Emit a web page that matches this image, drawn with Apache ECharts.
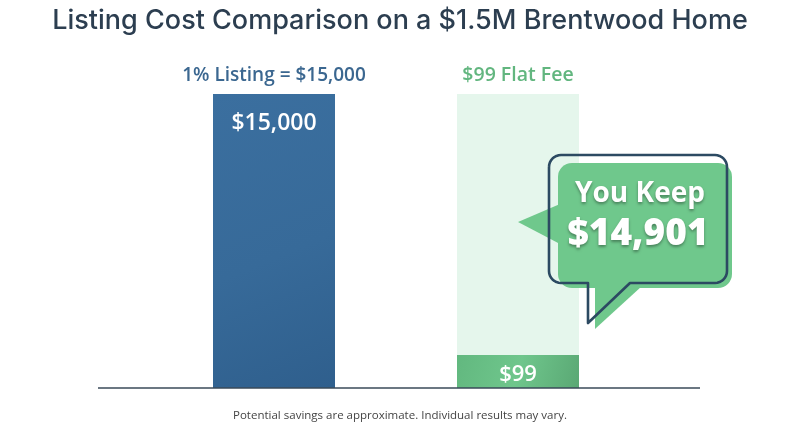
<!DOCTYPE html>
<html><head><meta charset="utf-8">
<script src="https://cdn.jsdelivr.net/npm/echarts@6/dist/echarts.min.js"></script>
<style>html,body{margin:0;padding:0;background:#fff}#c{width:800px;height:436px}</style>
</head><body><div id="c"></div>
<script>
var title = 'Listing Cost Comparison on a $1.5M Brentwood Home';
var categories = ['1% Listing = $15,000', '$99 Flat Fee'];
var costs = [15000, 99];
var barLabels = ['$15,000', '$99'];
var savings = costs[0] - costs[1];
var footnote = 'Potential savings are approximate. Individual results may vary.';

var FONT = '"Open Sans", "Noto Sans", sans-serif';
var TFONT = 'Inter, "Open Sans", sans-serif';
var chart = echarts.init(document.getElementById('c'), null, {renderer: 'canvas'});
var outline = '#2c4a62';
var green = '#6fc88c';

// rounded-rect bubble outline with bottom tail, as polyline points
function bubblePoints(x0, y0, x1, y1, r, tailL, tailR, tailY) {
  var pts = [];
  function arc(cx, cy, a0, a1) {
    for (var i = 0; i <= 8; i++) {
      var a = a0 + (a1 - a0) * i / 8;
      pts.push([cx + r * Math.cos(a), cy + r * Math.sin(a)]);
    }
  }
  var P = Math.PI;
  arc(x0 + r, y0 + r, P, 1.5 * P);
  arc(x1 - r, y0 + r, 1.5 * P, 2 * P);
  arc(x1 - r, y1 - r, 0, 0.5 * P);
  pts.push([tailR, y1]);
  pts.push([tailL, tailY]);
  pts.push([tailL, y1]);
  arc(x0 + r, y1 - r, 0.5 * P, P);
  pts.push([x0, y0 + r]);
  return pts;
}

chart.setOption({
  animation: false,
  backgroundColor: '#ffffff',
  title: {
    text: title, left: 'center', top: 2,
    textStyle: {fontFamily: TFONT, fontSize: 27, fontWeight: 500, color: '#2c3e50'}
  },
  grid: {left: 152, right: 160, top: 94, bottom: 48},
  xAxis: {
    type: 'category', position: 'top', data: categories,
    axisLine: {show: false}, axisTick: {show: false},
    axisLabel: {
      margin: 9,
      formatter: function (v, i) { return i === 0 ? '{a|' + v + '}' : '{b|' + v + '}'; },
      rich: {
        a: {color: '#3b6790', fontFamily: FONT, fontSize: 19, fontWeight: 600},
        b: {color: '#62b67f', fontFamily: FONT, fontSize: 19.5, fontWeight: 600}
      }
    }
  },
  yAxis: {type: 'value', min: 0, max: costs[0], show: false, splitLine: {show: false}},
  series: [{
    type: 'bar', barWidth: 122, barMinHeight: 33,
    showBackground: true,
    backgroundStyle: {color: '#e5f6ec'},
    data: [
      {value: costs[0], itemStyle: {color: new echarts.graphic.LinearGradient(0, 0, 1, 1, [
        {offset: 0, color: '#3b6f9f'}, {offset: 0.55, color: '#376a99'}, {offset: 1, color: '#2f5f8d'}])},
        label: {position: 'insideTop', distance: 18, fontSize: 23}},
      {value: costs[1], itemStyle: {color: new echarts.graphic.LinearGradient(0, 0, 1, 1, [
        {offset: 0, color: '#62b87f'}, {offset: 0.5, color: '#6fc68c'}, {offset: 1, color: '#5aa874'}])},
        label: {position: 'inside', fontSize: 22, offset: [0, 3]}}
    ],
    label: {
      show: true, color: '#ffffff', fontFamily: FONT, fontWeight: 600,
      formatter: function (p) { return barLabels[p.dataIndex]; }
    }
  }],
  graphic: [
    {type: 'line', shape: {x1: 98, y1: 388, x2: 700, y2: 388}, style: {stroke: '#3a4a58', lineWidth: 1.5}, z: 10},
    {type: 'rect', shape: {x: 558, y: 163, width: 174, height: 125, r: 14}, style: {fill: green}, z: 20},
    {type: 'polygon', shape: {points: [[518, 222], [560, 204], [560, 244]]}, style: {fill: green}, z: 20},
    {type: 'polygon', shape: {points: [[595, 286], [595, 329], [642, 286]]}, style: {fill: green}, z: 20},
    {type: 'polyline', z: 21,
      shape: {points: bubblePoints(549, 155, 727, 283, 12, 588, 630, 323)},
      style: {fill: null, stroke: outline, lineWidth: 2.6, lineJoin: 'round'}},
    {type: 'text', z: 22,
      style: {text: 'You Keep', x: 640, y: 180, fill: '#ffffff', font: '700 28px ' + FONT, textAlign: 'center',
        textShadowColor: 'rgba(0,0,0,0.35)', textShadowBlur: 3, textShadowOffsetY: 2}},
    {type: 'text', z: 22,
      style: {text: '$' + savings.toLocaleString('en-US'), x: 638, y: 216, fill: '#ffffff', font: '800 37px ' + FONT, textAlign: 'center',
        textShadowColor: 'rgba(0,0,0,0.35)', textShadowBlur: 3, textShadowOffsetY: 2}},
    {type: 'text', z: 22,
      style: {text: footnote, x: 400, y: 410, fill: '#444444', font: '400 11.5px ' + FONT, textAlign: 'center'}}
  ]
});
</script></body></html>
